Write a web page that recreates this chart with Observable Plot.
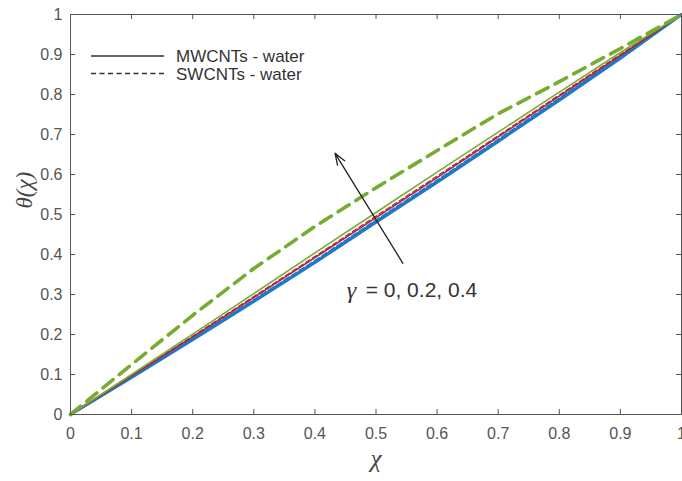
<!DOCTYPE html>
<html><head><meta charset="utf-8">
<script src="https://cdn.jsdelivr.net/npm/d3@7"></script>
<script src="https://cdn.jsdelivr.net/npm/@observablehq/plot@0.6"></script>
<style>
body{margin:0;background:#fff}
#chart{position:relative;width:682px;height:481px;overflow:hidden}
</style>
</head><body><div id="chart"></div>
<script>
// x values (chi)
const chi = [0, 0.1, 0.2, 0.3, 0.4, 0.5, 0.6, 0.7, 0.8, 0.9, 1];
// theta(chi) series
const mwGamma0  = [0, 0.093, 0.187, 0.283, 0.380, 0.481, 0.581, 0.683, 0.786, 0.891, 1];
const swGamma0  = [0, 0.095, 0.190, 0.286, 0.384, 0.485, 0.585, 0.687, 0.790, 0.894, 1];
const mwGamma02 = [0, 0.097, 0.194, 0.292, 0.392, 0.492, 0.592, 0.694, 0.796, 0.898, 1];
const swGamma02 = [0, 0.098, 0.196, 0.295, 0.395, 0.496, 0.596, 0.697, 0.799, 0.900, 1];
const mwGamma04 = [0, 0.100, 0.201, 0.302, 0.404, 0.505, 0.606, 0.706, 0.806, 0.905, 1];
const swGamma04 = [0, 0.125, 0.248, 0.365, 0.470, 0.567, 0.660, 0.752, 0.832, 0.915, 1];

const seriesNames = ["mw0","sw0","mw02","sw02","mw04","sw04"];
const seriesValues = [mwGamma0, swGamma0, mwGamma02, swGamma02, mwGamma04, swGamma04];
const seriesColors = ["#1f78c8","#1f78c8","#b0203a","#b0203a","#77ac30","#77ac30"];

// ticks
const xTicks = [0, 0.1, 0.2, 0.3, 0.4, 0.5, 0.6, 0.7, 0.8, 0.9, 1];
const yTicks = [0, 0.1, 0.2, 0.3, 0.4, 0.5, 0.6, 0.7, 0.8, 0.9, 1];

// annotation
const arrowFrom = {x: 0.544, y: 0.378};
const arrowTo = {x: 0.433, y: 0.653};
const annotLabelPos = {x: 0.452, y: 0.31};
const legendLabels = ["MWCNTs - water", "SWCNTs - water"];

const rows = seriesNames.map((name, i) => chi.map((c, j) => ({name, chi: c, theta: seriesValues[i][j]})));

const styles = [
  {strokeWidth: 3.2},
  {strokeWidth: 2.2, strokeDasharray: "6,3"},
  {strokeWidth: 1.6},
  {strokeWidth: 1.2, strokeDasharray: "5,3"},
  {strokeWidth: 1.6},
  {strokeWidth: 3.6, strokeDasharray: "13,8"}
];

const W = 682, H = 481;
const ml = 70, mr = 1, mt = 14, mb = 67;
const fw = W - ml - mr, fh = H - mt - mb;
const fmt = d => String(+d.toFixed(1));

const plot = Plot.plot({
  width: W, height: H,
  marginLeft: ml, marginRight: mr, marginTop: mt, marginBottom: mb,
  style: {fontFamily: "Liberation Sans, Arial, sans-serif", fontSize: "16px", color: "#555", background: "#fff"},
  x: {domain: [0, 1], ticks: xTicks, tickFormat: fmt, tickSize: 0, tickPadding: 13, label: null},
  y: {domain: [0, 1], ticks: yTicks, tickFormat: fmt, tickSize: 0, tickPadding: 8, label: null},
  marks: [
    ...rows.map((r, i) => Plot.line(r, {x: "chi", y: "theta", stroke: seriesColors[i], ...styles[i]})),
    Plot.frame({stroke: "#555", strokeWidth: 1}),
    Plot.tickX(xTicks, {x: d => d, insetTop: fh - 5, stroke: "#555"}),
    Plot.tickX(xTicks, {x: d => d, insetBottom: fh - 5, stroke: "#555"}),
    Plot.tickY(yTicks, {y: d => d, insetLeft: fw - 5, stroke: "#555"}),
    Plot.tickY(yTicks, {y: d => d, insetRight: fw - 5, stroke: "#555"}),
    Plot.arrow([{...arrowFrom, x2: arrowTo.x, y2: arrowTo.y}], {x1: "x", y1: "y", x2: "x2", y2: "y2", stroke: "#222", strokeWidth: 1.3, headLength: 14, headAngle: 40}),
    Plot.text(["γ"], {x: () => annotLabelPos.x, y: () => annotLabelPos.y, text: d => d, textAnchor: "start", fontSize: 24, fontStyle: "italic", fontFamily: "Liberation Serif, serif", fill: "#333"}),
    Plot.text(["= 0, 0.2, 0.4"], {x: () => annotLabelPos.x, y: () => annotLabelPos.y, text: d => d, textAnchor: "start", dx: 19, fontSize: 21, fill: "#333"}),
    Plot.text(["χ"], {frameAnchor: "bottom", text: d => d, dy: 52, fontSize: 25, fontStyle: "italic", fontFamily: "Liberation Serif, serif", fill: "#444"}),
    Plot.text(["θ(χ)"], {frameAnchor: "left", text: d => d, rotate: -90, dx: -46, dy: -6, fontSize: 23, fontStyle: "italic", fontFamily: "Liberation Serif, serif", fill: "#444"})
  ]
});

// Legend (MATLAB style, no box)
const svg = d3.select(plot);
const lg = svg.append("g").attr("font-family", "Liberation Sans, Arial, sans-serif").attr("font-size", 17).attr("fill", "#333").attr("text-anchor", "start");
[[56, null], [73.5, "5,3.5"]].forEach(([y, dash], i) => {
  lg.append("line").attr("x1", 91).attr("x2", 164).attr("y1", y).attr("y2", y)
    .attr("stroke", "#333").attr("stroke-width", 1.4).attr("stroke-dasharray", dash);
  lg.append("text").attr("x", 176).attr("y", y + 6).attr("text-anchor", "start").text(legendLabels[i]);
});

document.getElementById("chart").appendChild(plot);
</script>
</body></html>
